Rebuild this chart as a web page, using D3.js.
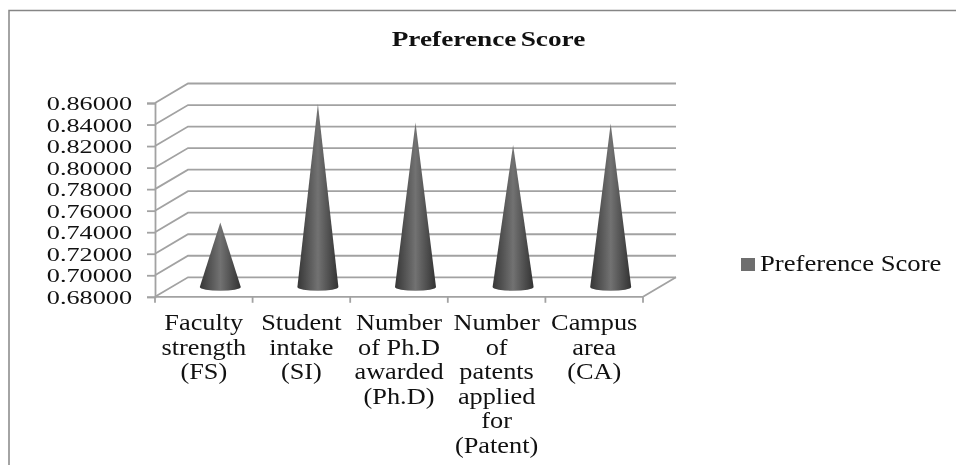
<!DOCTYPE html>
<html>
<head>
<style>
    body { margin: 0; background: #fff; }
    text { font-family: "Liberation Serif", serif; fill: #111; }
    /* reference is a soft scan, take the hard edge off */
    svg { filter: blur(0.35px); }
</style>
</head>
<body>
<svg id="container" width="956" height="465"></svg>
<script src="https://cdn.jsdelivr.net/npm/d3@7"></script>
<script>
    const categories = [
        ["Faculty", "strength", "(FS)"],
        ["Student", "intake", "(SI)"],
        ["Number", "of Ph.D", "awarded", "(Ph.D)"],
        ["Number", "of", "patents", "applied", "for", "(Patent)"],
        ["Campus", "area", "(CA)"]
    ]
    const scores = [0.74, 0.85, 0.833, 0.812, 0.832]
    const yTicks = [0.68, 0.70, 0.72, 0.74, 0.76, 0.78, 0.80, 0.82, 0.84, 0.86]
    const seriesName = "Preference Score"

    let svg = d3.select("#container")

    const depthX = 33, depthY = 19.5 // offset of the back wall from the front
    const lineColor = "#a2a2a2"

    let x = d3.scaleBand().domain(d3.range(scores.length)).range([155, 643])
    let y = d3.scaleLinear().domain([0.68, 0.86]).range([296.8, 103])

    let defs = svg.append("defs")
    let grad = defs.append("linearGradient").attr("id", "cone")
    grad.append("stop").attr("offset", "0%").attr("stop-color", "#363636")
    grad.append("stop").attr("offset", "50%").attr("stop-color", "#727272")
    grad.append("stop").attr("offset", "100%").attr("stop-color", "#323232")

    // chart frame
    svg.append("path").attr("d", "M9,465V10.5H956")
        .attr("fill", "none").attr("stroke", "#868686").attr("stroke-width", 1.5)

    let wall = svg.append("g").attr("fill", "none").attr("stroke", lineColor).attr("stroke-width", 1.8)

    // back wall lines and side wall diagonals
    wall.selectAll(".grid").data(yTicks).enter().append("path")
        .attr("class", "grid")
        .attr("d", d => `M${x.range()[0]},${y(d)}l${depthX},${-depthY}H${x.range()[1] + depthX}`)

    // floor right edge
    wall.append("path")
        .attr("d", `M${x.range()[1]},${y(0.68)}l${depthX},${-depthY}`)

    // value axis
    let yAxis = svg.append("g")
        .attr("transform", `translate(${x.range()[0]},0)`)
        .call(d3.axisLeft(y).tickValues(yTicks).tickFormat(d3.format(".5f")).tickSize(8).tickPadding(0))
    yAxis.selectAll("line,path").attr("stroke", lineColor).attr("stroke-width", 1.8)
    yAxis.selectAll("text")
        .attr("x", 0).attr("dy", null)
        .attr("text-anchor", "end")
        .attr("font-size", 18.6)
        .attr("transform", "translate(-23,6.5) scale(1.41,1)")

    // category axis
    let edges = d3.range(scores.length + 1).map(i => x.range()[0] + i * x.step())
    svg.append("line").attr("x1", edges[0]).attr("x2", edges[5])
        .attr("y1", y(0.68)).attr("y2", y(0.68))
        .attr("stroke", lineColor).attr("stroke-width", 1.8)
    svg.selectAll(".tick-x").data(edges).enter().append("line")
        .attr("class", "tick-x")
        .attr("x1", d => d).attr("x2", d => d)
        .attr("y1", y(0.68)).attr("y2", y(0.68) + 6)
        .attr("stroke", lineColor).attr("stroke-width", 1.8)

    // cones stand half way into the depth
    const halfW = 20.5, ry = 3.8
    let coneX = i => x(i) + x.bandwidth() / 2 + depthX / 2
    let coneBase = y(0.68) - depthY / 2
    svg.selectAll(".bar").data(scores).enter().append("path")
        .attr("class", "bar")
        .attr("fill", "url(#cone)")
        .attr("d", (d, i) => {
            let cx = coneX(i)
            let apex = y(d) - depthY / 2
            return `M${cx},${apex}L${cx + halfW},${coneBase}A${halfW},${ry} 0 0 1 ${cx - halfW},${coneBase}Z`
        })

    // category labels
    let labels = svg.selectAll(".cat").data(categories).enter().append("text")
        .attr("class", "cat")
        .attr("text-anchor", "middle")
        .attr("font-size", 22.5)
        .attr("transform", (d, i) => `translate(${x(i) + x.bandwidth() / 2},330) scale(1.17,1)`)
    labels.selectAll("tspan").data(d => d).enter().append("tspan")
        .attr("x", 0)
        .attr("y", (d, i) => i * 24.6)
        .text(d => d)

    // title
    svg.append("text").text(seriesName)
        .attr("text-anchor", "middle")
        .attr("font-size", 21).attr("font-weight", "bold")
        .attr("word-spacing", -2)
        .attr("transform", "translate(488.5,46) scale(1.3,1)")

    // legend
    svg.append("rect").attr("x", 741).attr("y", 258).attr("width", 14).attr("height", 13)
        .attr("fill", "#6e6e6e")
    svg.append("text").text(seriesName)
        .attr("font-size", 22.5)
        .attr("transform", "translate(760,271) scale(1.186,1)")
</script>
</body>
</html>
